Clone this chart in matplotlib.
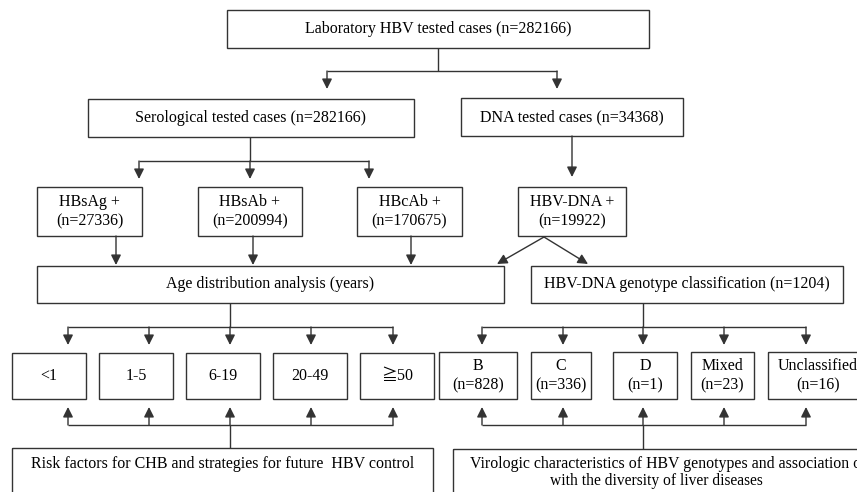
import matplotlib.pyplot as plt
from matplotlib.patches import Rectangle

# flowchart texts
top_label = "Laboratory HBV tested cases (n=282166)"
branch_labels = ["Serological tested cases (n=282166)", "DNA tested cases (n=34368)"]
markers = ["HBsAg +", "HBsAb +", "HBcAb +", "HBV-DNA +"]
marker_counts = [27336, 200994, 170675, 19922]
analysis_labels = ["Age distribution analysis (years)",
                   "HBV-DNA genotype classification (n=1204)"]
age_groups = ["<1", "1-5", "6-19", "20-49", "\u2267" + "50"]
genotypes = ["B", "C", "D", "Mixed", "Unclassified"]
genotype_counts = [828, 336, 1, 23, 16]
outcome_left = "Risk factors for CHB and strategies for future  HBV control"
outcome_right = ["Virologic characteristics of HBV genotypes and association of",
                 "with the diversity of liver diseases"]

LC = "#333333"
FONT = ["Liberation Serif", "Noto Sans CJK JP", "DejaVu Sans"]
FS = 11.5

fig = plt.figure(figsize=(8.57, 4.92), dpi=100)
ax = fig.add_axes([0, 0, 1, 1])
ax.set_xlim(0, 857)
ax.set_ylim(492, 0)
ax.axis("off")


def label(x, y, text, ha="center", fs=FS):
    ax.text(x, y, text, ha=ha, va="center", multialignment="center",
            family=FONT, fontsize=fs, linespacing=1.25)


def box(x0, y0, x1, y1, text=None, tx=None, ty=None):
    ax.add_patch(Rectangle((x0, y0), x1 - x0, y1 - y0, fill=False,
                           edgecolor=LC, lw=1.0))
    if text is not None:
        label((x0 + x1) / 2 if tx is None else tx,
              (y0 + y1) / 2 if ty is None else ty, text)


def line(xs, ys):
    ax.plot(xs, ys, color=LC, lw=1.0, solid_capstyle="butt")


def arrow(x0, y0, x1, y1):
    ax.annotate("", xy=(x1, y1), xytext=(x0, y0),
                arrowprops=dict(arrowstyle="-|>,head_length=0.6,head_width=0.3",
                                color=LC, lw=1.0, shrinkA=0, shrinkB=0))


# top level
box(227, 10, 649, 48, top_label)
line([438, 438], [48, 71])
line([327, 557], [71, 71])
arrow(327, 71, 327, 89)
arrow(557, 71, 557, 89)

box(88, 99, 414, 137, branch_labels[0])
box(461, 98, 683, 136, branch_labels[1])

# serology split
line([250, 250], [137, 161])
line([139, 369], [161, 161])
for x in [139, 250, 369]:
    arrow(x, 161, x, 179)
arrow(572, 136, 572, 177)

marker_x = [(37, 142), (198, 302), (357, 462), (518, 626)]
for (x0, x1), m, n in zip(marker_x, markers, marker_counts):
    box(x0, 187, x1, 236, f"{m}\n(n={n})")

for x in [116, 253, 411]:
    arrow(x, 236, x, 265)
arrow(544, 237, 497, 264)
arrow(544, 237, 588, 264)

box(37, 266, 504, 303, analysis_labels[0])
box(531, 266, 843, 303, analysis_labels[1])

# age groups
age_arrows = [68, 149, 230, 311, 393]
line([230, 230], [303, 327])
line([68, 393], [327, 327])
for x in age_arrows:
    arrow(x, 327, x, 345)
for i, g in enumerate(age_groups):
    x0 = 12 + 87 * i
    box(x0, 353, x0 + 74, 399, g)
line([68, 393], [425, 425])
for x in age_arrows:
    arrow(x, 425, x, 407)
line([230, 230], [425, 448])

# genotypes
geno_arrows = [482, 563, 643, 724, 806]
geno_x = [(439, 517), (531, 591), (613, 677), (691, 754), (768, 868)]
line([643, 643], [303, 327])
line([482, 806], [327, 327])
for x in geno_arrows:
    arrow(x, 327, x, 345)
for (x0, x1), g, n in zip(geno_x, genotypes, genotype_counts):
    box(x0, 352, x1, 399, f"{g}\n(n={n})")
line([482, 806], [425, 425])
for x in geno_arrows:
    arrow(x, 425, x, 407)
line([643, 643], [425, 449])

# outcomes
box(12, 448, 433, 520, outcome_left, ty=464)
box(453, 449, 869, 520)
label(470, 464, outcome_right[0], ha="left", fs=11.4)
label(656, 481, outcome_right[1], fs=11.2)

fig.savefig("out.png", dpi=100)
